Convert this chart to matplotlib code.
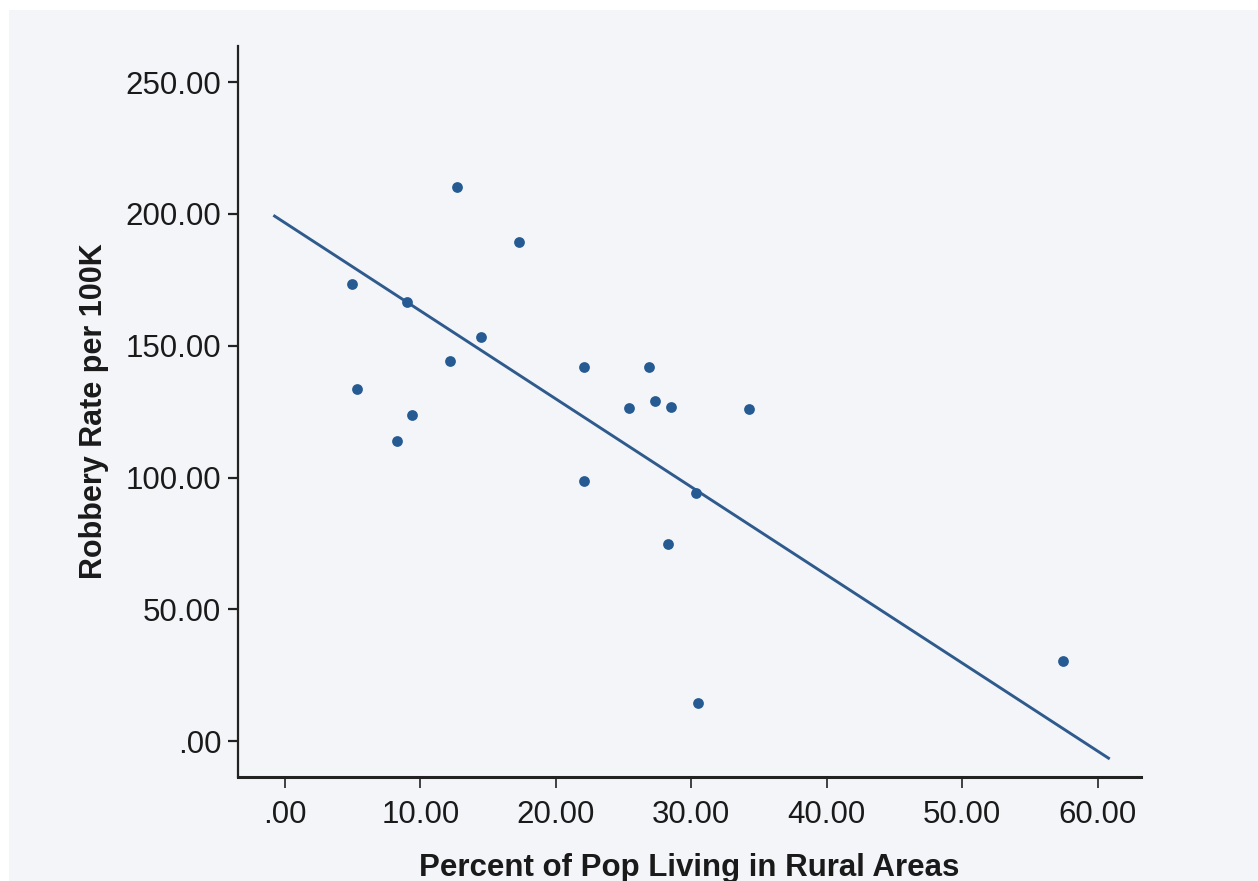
import numpy as np
import matplotlib
matplotlib.use('Agg')
import matplotlib.pyplot as plt
from matplotlib.patches import Rectangle

plt.rcParams['font.family'] = ['Liberation Sans', 'DejaVu Sans']

# data
pct_rural = [4.98, 5.35, 8.27, 8.99, 9.41, 12.2, 12.7, 14.47, 17.31, 22.09,
             22.09, 25.38, 26.9, 27.31, 28.31, 28.52, 30.36, 30.52, 34.24, 57.46]
robbery_rate = [173.4, 133.5, 113.8, 166.5, 123.7, 144.3, 210.2, 153.4, 189.4, 142.0,
                98.6, 126.2, 142.0, 129.1, 74.8, 126.8, 94.2, 14.3, 125.9, 30.3]
# fit line as drawn in the chart
fit_intercept = 196.6
fit_slope = -3.34
fit_range = [-0.77, 60.8]

x_ticks = [0, 10, 20, 30, 40, 50, 60]
y_ticks = [0, 50, 100, 150, 200, 250]

bg = '#f3f5f9'
dot_color = '#255a92'
txt = '#1a1a1a'

fig = plt.figure(figsize=(12.58, 8.81), dpi=100, facecolor='white')
fig.add_artist(Rectangle((9 / 1258, 0), 1, (881 - 10) / 881,
                         transform=fig.transFigure, facecolor=bg,
                         edgecolor='none', zorder=-10))
ax = fig.add_axes([0.1892, 0.1184, 0.907 - 0.1892, 0.9478 - 0.1184])
ax.set_facecolor(bg)

ax.scatter(pct_rural, robbery_rate, s=60, color=dot_color, zorder=3, linewidths=0)

fx = np.array(fit_range)
ax.plot(fx, fit_intercept + fit_slope * fx, color='#2f5a8c', lw=2.1, zorder=2)

ax.set_xlim(-3.47, 63.2)
ax.set_ylim(-13.5, 263.7)
ax.set_xticks(x_ticks)
ax.set_yticks(y_ticks)
ax.set_xticklabels(['.00' if v == 0 else f'{v:.2f}' for v in x_ticks])
ax.set_yticklabels(['.00' if v == 0 else f'{v:.2f}' for v in y_ticks])

for s in ['top', 'right']:
    ax.spines[s].set_visible(False)
ax.spines['left'].set_linewidth(1.6)
ax.spines['bottom'].set_linewidth(2.2)
ax.spines['left'].set_color('#222222')
ax.spines['bottom'].set_color('#222222')

ax.tick_params(axis='x', direction='out', length=8, width=1.2, pad=9,
               labelsize=22.5, colors='#222222', labelcolor=txt)
ax.tick_params(axis='y', direction='out', length=7, width=1.6, pad=5,
               labelsize=22.5, colors='#222222', labelcolor=txt)

ax.set_xlabel('Percent of Pop Living in Rural Areas', fontsize=22.5, fontweight='bold',
              color=txt, labelpad=16)
ax.set_ylabel('Robbery Rate per 100K', fontsize=22, fontweight='bold',
              color=txt, labelpad=12)

fig.savefig('out.png', dpi=100, facecolor=fig.get_facecolor())
